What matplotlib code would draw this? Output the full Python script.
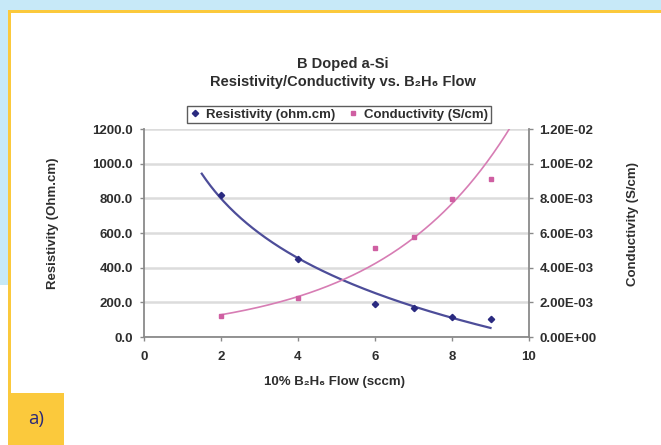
import numpy as np
import matplotlib
matplotlib.use("Agg")
import matplotlib.pyplot as plt
from matplotlib.patches import Rectangle
from matplotlib.ticker import FuncFormatter

plt.rcParams['font.family'] = ['Liberation Sans', 'DejaVu Sans']

# ---- data ----
flow = [2, 4, 6, 7, 8, 9]
resistivity = [820, 450, 190, 169, 117, 102]
conductivity = [0.00121, 0.00223, 0.00515, 0.00575, 0.00794, 0.0091]
x_ticks = [0, 2, 4, 6, 8, 10]
left_ticks = [0, 200, 400, 600, 800, 1000, 1200]
right_ticks = [0, 0.002, 0.004, 0.006, 0.008, 0.010, 0.012]
title = "B Doped a-Si\nResistivity/Conductivity vs. B\u2082H\u2086 Flow"
xlabel = "10% B\u2082H\u2086 Flow (sccm)"
ylabel_left = "Resistivity (Ohm.cm)"
ylabel_right = "Conductivity (S/cm)"
series_names = ["Resistivity (ohm.cm)", "Conductivity (S/cm)"]

W, H = 661, 445
fig = plt.figure(figsize=(W / 100, H / 100), dpi=100)
fig.patch.set_facecolor('white')

def fx(x):
    return x / W

def fy(y):
    return 1 - y / H

def px_rect(x0, y0, x1, y1, color, z=0):
    r = Rectangle((x0 / W, 1 - y1 / H), (x1 - x0) / W, (y1 - y0) / H,
                  transform=fig.transFigure, facecolor=color, edgecolor='none', zorder=z)
    fig.add_artist(r)

blue = '#c7e9f8'
yellow = '#fbc93c'
px_rect(0, 0, W, 10, blue)
px_rect(0, 0, 8, 285, blue)
px_rect(8, 10, W, 13, yellow)
px_rect(8, 10, 11, H, yellow)
px_rect(8, 393, 64, H, yellow)
fig.text(fx(36), fy(419), "a)", ha='center', va='center', fontsize=13.5,
         color='#2b2a78', family=['Open Sans', 'DejaVu Sans'])

# axes
ax_l, ax_r, ax_t, ax_b = 144, 529, 129, 337
ax = fig.add_axes([ax_l / W, 1 - ax_b / H, (ax_r - ax_l) / W, (ax_b - ax_t) / H])
ax.set_facecolor('white')
ax2 = ax.twinx()

tc = '#2e2e2e'
fs = 9.5

# trend lines from data fits
cl = np.polyfit(np.log(flow), resistivity, 1)
xr = np.linspace(1.5, 9, 200)
ax.plot(xr, cl[0] * np.log(xr) + cl[1], color='#4d4d99', lw=1.6, zorder=3)
ax.plot(flow, resistivity, linestyle='none', marker='D', ms=3.2, color='#2a2a80', zorder=4,
        label=series_names[0])

ce = np.polyfit(flow, np.log(conductivity), 1)
xc = np.linspace(2, 10, 200)
ax2.plot(xc, np.exp(ce[1] + ce[0] * xc), color='#d77db4', lw=1.2, zorder=3)
ax2.plot(flow, conductivity, linestyle='none', marker='s', ms=3, color='#cf5fa2', zorder=4,
         label=series_names[1])

ax.set_xlim(0, 10)
ax.set_ylim(0, 1200)
ax2.set_ylim(0, 0.012)
ax.set_xticks(x_ticks)
ax.set_yticks(left_ticks)
ax2.set_yticks(right_ticks)
ax.yaxis.set_major_formatter(FuncFormatter(lambda v, p: f"{v:.1f}"))
ax2.yaxis.set_major_formatter(FuncFormatter(lambda v, p: f"{v:.2E}"))
ax.grid(axis='y', color='#dcdcdc', lw=1.8)
ax.set_axisbelow(True)

for a in (ax, ax2):
    a.spines['top'].set_visible(False)
    for s in ('left', 'right', 'bottom'):
        a.spines[s].set_color('#8a8a8a')
        a.spines[s].set_linewidth(1.3)
    a.tick_params(colors='#8a8a8a', labelcolor=tc, labelsize=fs, length=3, width=1)
ax.spines['right'].set_visible(False)
ax2.spines['left'].set_visible(False)
ax2.spines['bottom'].set_visible(False)
for lab in ax.get_xticklabels() + ax.get_yticklabels() + ax2.get_yticklabels():
    lab.set_fontweight('bold')
ax.tick_params(axis='x', pad=7)
ax.tick_params(axis='y', pad=5)
ax2.tick_params(axis='y', pad=4.5)

fig.text(fx(335), fy(382), xlabel, ha='center', va='center', fontsize=fs,
         fontweight='bold', color=tc)
fig.text(fx(53), fy(223), ylabel_left, ha='center', va='center', rotation=90,
         fontsize=fs, fontweight='bold', color=tc)
fig.text(fx(633), fy(224), ylabel_right, ha='center', va='center', rotation=90,
         fontsize=fs, fontweight='bold', color=tc)

fig.text(fx(343), fy(73), title, ha='center', va='center', fontsize=10.5,
         fontweight='bold', color=tc, linespacing=1.35)

h1, l1 = ax.get_legend_handles_labels()
h2, l2 = ax2.get_legend_handles_labels()
leg = ax2.legend(h1 + h2, l1 + l2, loc='center', bbox_to_anchor=(fx(339), fy(114.5)),
                 bbox_transform=fig.transFigure, ncol=2,
                 fontsize=fs, frameon=True, fancybox=False, edgecolor='#333333',
                 borderpad=0.2, handlelength=0.8, handletextpad=0.4, columnspacing=1.0,
                 borderaxespad=0)
leg.get_frame().set_linewidth(1.0)
for t in leg.get_texts():
    t.set_fontweight('bold')
    t.set_color(tc)

fig.savefig('out.png', dpi=100)
